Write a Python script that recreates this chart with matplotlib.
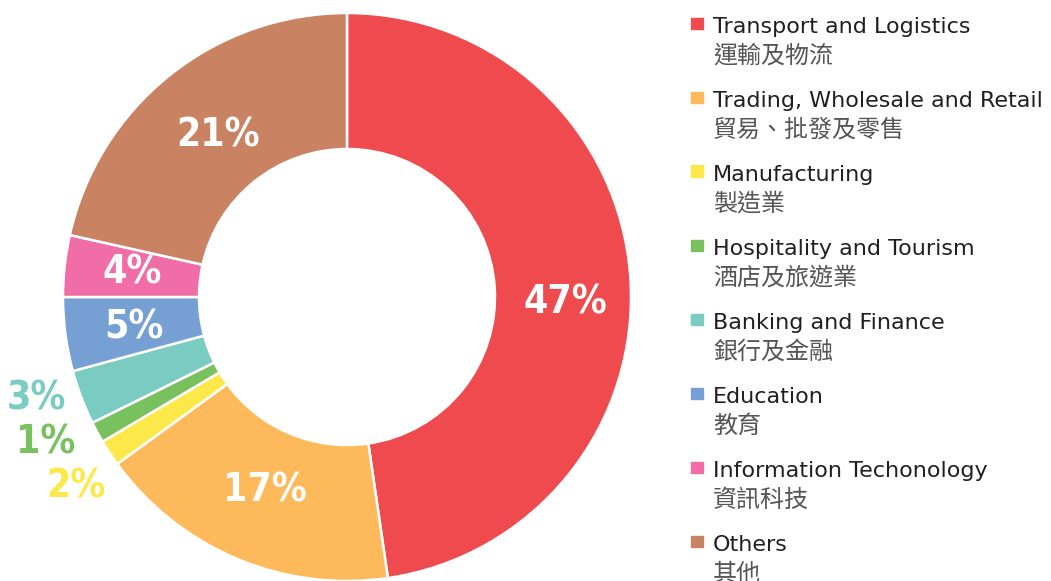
import matplotlib
matplotlib.use("Agg")
import matplotlib.pyplot as plt

# Data
categories_en = ["Transport and Logistics", "Trading, Wholesale and Retail", "Manufacturing",
                 "Hospitality and Tourism", "Banking and Finance", "Education",
                 "Information Techonology", "Others"]
categories_zh = ["運輸及物流", "貿易、批發及零售", "製造業", "酒店及旅遊業",
                 "銀行及金融", "教育", "資訊科技", "其他"]
shares = [47.7, 17.3, 1.5, 1.2, 3.1, 4.2, 3.5, 21.5]          # wedge sizes as drawn
pct_labels = ["47%", "17%", "2%", "1%", "3%", "5%", "4%", "21%"]  # printed labels
colors = ["#EF4B4F", "#FDB95A", "#FDE84A", "#79C05E", "#7ACBC2", "#769FD3", "#F06DA8", "#C98262"]

# Layout (label positions in axes units, text colours)
label_pos = [(0.768, -0.021), (-0.289, -0.680), (-0.954, -0.669), (-1.060, -0.514),
             (-1.092, -0.356), (-0.750, -0.109), (-0.757, 0.088), (-0.454, 0.570)]
label_col = ["white", "white", "#FDE84A", "#79C05E", "#7ACBC2", "white", "white", "white"]

W, H = 1051, 581
fig = plt.figure(figsize=(W / 100, H / 100), dpi=100)
R = 284
cx, cy = 347, 297
ax = fig.add_axes([(cx - R) / W, (H - cy - R) / H, 2 * R / W, 2 * R / H])
ax.pie(shares, colors=colors, startangle=90, counterclock=False, radius=1,
       wedgeprops=dict(width=1 - 148 / R, edgecolor="white", linewidth=1.8))
ax.set_xlim(-1, 1)
ax.set_ylim(-1, 1)
ax.set_aspect("equal")
ax.axis("off")

lab_font = dict(family=["DejaVu Sans"], weight="bold", stretch="condensed", size=28)
for txt, (x, y), c in zip(pct_labels, label_pos, label_col):
    ax.text(x, y, txt, ha="center", va="center", color=c, clip_on=False, **lab_font)

# Legend
for i, (en, zh, c) in enumerate(zip(categories_en, categories_zh, colors)):
    yb = 33 + 74 * i
    fig.patches.append(plt.Rectangle((691 / W, 1 - (yb - 4) / H), 11.5 / W, 11.5 / H,
                                     transform=fig.transFigure, color=c, figure=fig))
    fig.text(713 / W, 1 - yb / H, en, ha="left", va="baseline", color="#231F20",
             family=["DejaVu Sans"], size=16)
    fig.text(713 / W, 1 - (yb + 29.5) / H, zh, ha="left", va="baseline", color="#555555",
             family=["Noto Sans CJK TC", "DejaVu Sans"], size=17.3)

fig.savefig("out.png", dpi=100)
